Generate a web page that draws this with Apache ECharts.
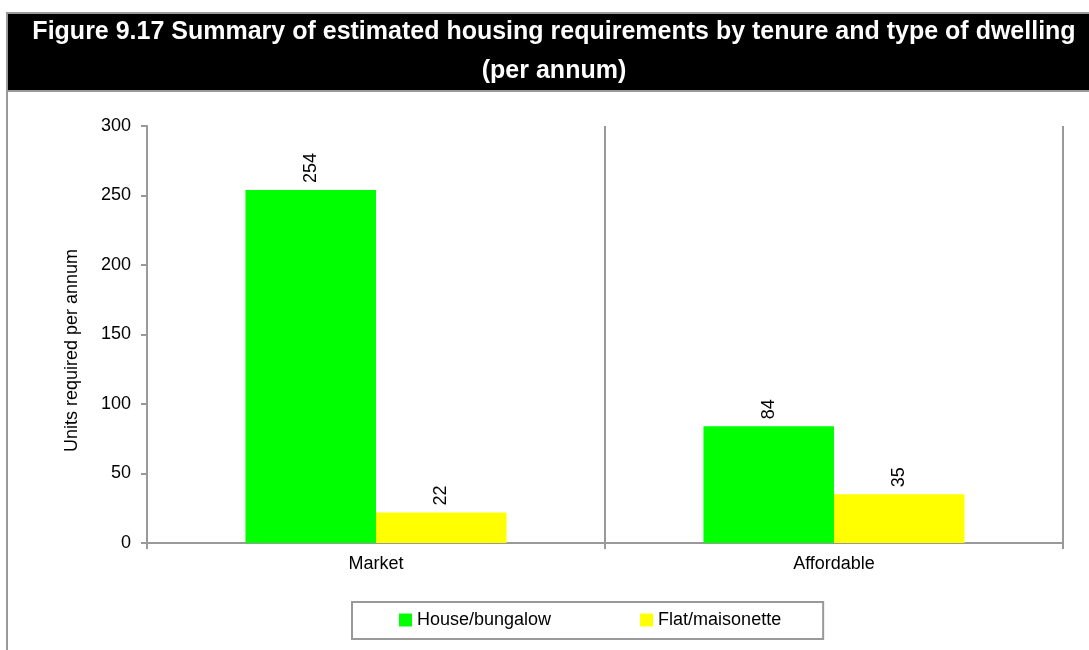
<!DOCTYPE html>
<html>
<head>
<meta charset="utf-8">
<script src="https://cdn.jsdelivr.net/npm/echarts@6/dist/echarts.min.js"></script>
<style>
  html, body { margin: 0; padding: 0; background: #fff; }
  #chart { width: 1089px; height: 650px; }
</style>
</head>
<body>
<div id="chart"></div>
<script>
// Housing requirements per annum, by tenure and dwelling type
const tenures = ['Market', 'Affordable'];
const houseBungalow = [254, 84];
const flatMaisonette = [22, 35];
const seriesNames = ['House/bungalow', 'Flat/maisonette'];
const yMin = 0, yMax = 300, yStep = 50;

const titleText = 'Figure 9.17 Summary of estimated housing requirements by tenure and type of dwelling\n(per annum)';
const yAxisTitle = 'Units required per annum';

const BODY_FONT = '"Liberation Sans", Arial, sans-serif';
const GREY = '#999999';

const chart = echarts.init(document.getElementById('chart'), null, { renderer: 'canvas' });

const barLabel = {
  show: true,
  position: 'top',
  rotate: 90,
  align: 'left',
  verticalAlign: 'middle',
  distance: 7,
  color: '#000',
  fontFamily: BODY_FONT,
  fontSize: 18
};

chart.setOption({
  backgroundColor: '#fff',
  animation: false,
  graphic: [
    // black title band
    { type: 'rect', z: -1, shape: { x: 8, y: 14, width: 1081, height: 77 }, style: { fill: '#000' } },
    // frame lines
    { type: 'line', shape: { x1: 7, y1: 13, x2: 1089, y2: 13 }, style: { stroke: GREY, lineWidth: 2 } },
    { type: 'line', shape: { x1: 7, y1: 91, x2: 1089, y2: 91 }, style: { stroke: GREY, lineWidth: 2 } },
    { type: 'line', shape: { x1: 7, y1: 12, x2: 7, y2: 650 }, style: { stroke: GREY, lineWidth: 2 } }
  ],
  title: {
    text: titleText,
    left: 549,
    top: 8,
    textAlign: 'center',
    textStyle: {
      color: '#fff',
      fontFamily: BODY_FONT,
      fontWeight: 'bold',
      fontSize: 25,
      lineHeight: 39
    }
  },
  legend: {
    data: seriesNames,
    left: 352,
    top: 602,
    padding: [9, 42, 10, 47],
    itemGap: 89,
    itemWidth: 13,
    itemHeight: 13,
    icon: 'rect',
    borderColor: GREY,
    borderWidth: 2,
    textStyle: { color: '#000', fontFamily: BODY_FONT, fontSize: 18 }
  },
  grid: { left: 147, right: 26, top: 126, bottom: 107, containLabel: false },
  xAxis: {
    type: 'category',
    data: tenures,
    axisLine: { lineStyle: { color: GREY, width: 2 } },
    axisTick: { show: true, alignWithLabel: false, length: 6, lineStyle: { color: GREY, width: 2 } },
    splitLine: { show: true, lineStyle: { color: GREY, width: 2 } },
    axisLabel: { color: '#000', fontFamily: BODY_FONT, fontSize: 18, margin: 12 }
  },
  yAxis: {
    type: 'value',
    min: yMin,
    max: yMax,
    interval: yStep,
    name: yAxisTitle,
    nameLocation: 'middle',
    nameGap: 66,
    nameTextStyle: { color: '#000', fontFamily: BODY_FONT, fontSize: 18, padding: [0, 32, 0, 0] },
    axisLine: { show: true, lineStyle: { color: GREY, width: 2 } },
    axisTick: { show: true, length: 6, lineStyle: { color: GREY, width: 2 } },
    splitLine: { show: false },
    axisLabel: { color: '#000', fontFamily: BODY_FONT, fontSize: 18, margin: 16 }
  },
  series: [
    {
      name: seriesNames[0],
      type: 'bar',
      data: houseBungalow,
      barGap: '0%',
      barCategoryGap: '43%',
      itemStyle: { color: '#00ff00' },
      label: barLabel
    },
    {
      name: seriesNames[1],
      type: 'bar',
      data: flatMaisonette,
      barGap: '0%',
      barCategoryGap: '43%',
      itemStyle: { color: '#ffff00' },
      label: barLabel
    }
  ]
});
</script>
</body>
</html>
